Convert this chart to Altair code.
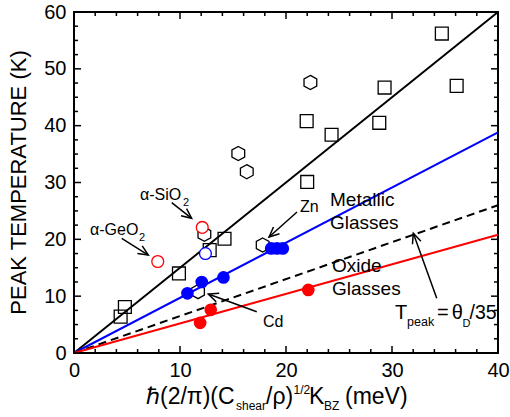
import math
import altair as alt
import pandas as pd

# ---------------- data ----------------
# open squares
sq_x = [34.7, 36.1, 29.3, 28.8, 21.95, 24.3, 22.0, 14.2, 12.8, 9.9, 4.8, 4.4]
sq_y = [56.2, 47.0, 46.7, 40.5, 40.8, 38.4, 30.1, 20.1, 18.1, 14.0, 8.1, 6.4]
# open hexagons
hex_x = [15.5, 16.3, 22.3, 12.3, 17.8, 11.7]
hex_y = [35.1, 31.9, 47.6, 20.9, 19.0, 10.8]
# open red circles (alpha-GeO2, alpha-SiO2)
oxo_x = [7.9, 12.1]
oxo_y = [16.1, 22.1]
# open blue circle
mgo_x = [12.4]
mgo_y = [17.5]
# filled blue circles (metallic glasses)
mg_x = [10.7, 12.05, 14.1, 18.6, 19.15, 19.7]
mg_y = [10.5, 12.5, 13.3, 18.4, 18.4, 18.4]
# filled red circles (oxide glasses)
ox_x = [11.9, 12.9, 22.1]
ox_y = [5.3, 7.6, 11.1]
# fitted lines through origin: value at x = 40
fit_x = [0, 40]
fit_end = {"black": 60.0, "blue": 38.8, "dash": 26.0, "red": 20.8}

# axis ticks
x_major = [0, 10, 20, 30, 40]
x_minor = [v for v in range(2, 40, 2) if v % 10 != 0]
y_major = [0, 10, 20, 30, 40, 50, 60]
y_minor = [v / 2 for v in range(5, 120, 5) if v % 20 != 0]

# annotations (data coordinates)
ann_label = ["\u03b1-SiO", "2", "\u03b1-GeO", "2", "Cd", "Zn",
             "Metallic", "Glasses", "Oxide", "Glasses",
             "T", "peak", "=", "\u03b8", "D", "/35"]
ann_x = [6.23, 10.28, 1.51, 6.13, 17.83, 21.32,
         24.15, 24.15, 24.34, 24.34,
         30.28, 31.42, 34.25, 35.63, 36.65, 37.31]
ann_y = [26.92, 25.95, 20.76, 19.71, 4.58, 24.81,
         25.87, 21.82, 14.17, 10.21,
         5.98, 4.75, 5.98, 5.98, 4.65, 5.98]
ann_fs = [16, 11, 16, 11, 16, 16,
          19, 19, 19, 19,
          20, 12.5, 20, 20, 11, 19.5]

# arrows (tail -> head), data coordinates
arr_x1 = [9.22, 4.50, 17.24, 21.04, 34.22]
arr_y1 = [26.45, 20.18, 7.27, 24.81, 9.63]
arr_x2 = [11.10, 7.01, 12.67, 18.40, 32.01]
arr_y2 = [23.70, 17.24, 10.38, 20.41, 21.06]

# x-axis title pieces: text, font size, left x (px in plot), baseline y (px in plot)
xt_text = ["\u210f(2/\u03c0)(C", "shear", "/\u03c1)", "1/2", "K", "BZ", "(meV)"]
xt_fs = [23, 12, 23, 12, 23, 12, 23]
xt_px = [72, 162, 192, 219.5, 235, 250, 271]
xt_py = [392, 398, 392, 382, 392, 398, 392]

# ---------------- chart ----------------
W, H = 424, 341
FONT = "Liberation Sans"
xs = alt.Scale(domain=[0, 40], nice=False, zero=False)
ys = alt.Scale(domain=[0, 60], nice=False, zero=False)
xaxis = alt.Axis(values=x_major, ticks=False, tickSize=0, domain=False, grid=False,
                 labelFontSize=20, labelFont=FONT, labelColor="black", labelPadding=7,
                 labelFlush=False, labelOverlap=False, title=None)
yaxis = alt.Axis(values=y_major, ticks=False, tickSize=0, domain=False, grid=False,
                 labelFontSize=20, labelFont=FONT, labelColor="black", labelPadding=8,
                 labelFlush=False, labelOverlap=False, title=None)


def X(f):
    return alt.X(f + ":Q", scale=xs, axis=xaxis)


def Y(f):
    return alt.Y(f + ":Q", scale=ys, axis=yaxis)


layers = []

# fitted lines
line_style = {
    "black": dict(color="black"),
    "blue": dict(color="#0000ff"),
    "dash": dict(color="black", strokeDash=[8, 5]),
    "red": dict(color="#ff0000"),
}
for key, yend in fit_end.items():
    df = pd.DataFrame({"x": fit_x, "y": [0, yend]})
    layers.append(alt.Chart(df).mark_line(strokeWidth=2, **line_style[key]).encode(x=X("x"), y=Y("y")))

# markers
hexpath = "M0,-1L0.9,-0.5L0.9,0.5L0,1L-0.9,0.5L-0.9,-0.5Z"
layers.append(alt.Chart(pd.DataFrame({"x": sq_x, "y": sq_y})).mark_point(
    shape="square", size=165, filled=False, color="black", strokeWidth=1.3, opacity=1
).encode(x=X("x"), y=Y("y")))
layers.append(alt.Chart(pd.DataFrame({"x": hex_x, "y": hex_y})).mark_point(
    shape=hexpath, size=200, filled=False, color="black", strokeWidth=1.3, opacity=1
).encode(x=X("x"), y=Y("y")))
layers.append(alt.Chart(pd.DataFrame({"x": oxo_x, "y": oxo_y})).mark_point(
    shape="circle", size=140, fill="white", stroke="#ff0000", strokeWidth=1.3, opacity=1
).encode(x=X("x"), y=Y("y")))
layers.append(alt.Chart(pd.DataFrame({"x": mgo_x, "y": mgo_y})).mark_point(
    shape="circle", size=140, fill="white", stroke="#0000ff", strokeWidth=1.3, opacity=1
).encode(x=X("x"), y=Y("y")))
layers.append(alt.Chart(pd.DataFrame({"x": mg_x, "y": mg_y})).mark_point(
    shape="circle", size=160, filled=True, color="#0000ff", opacity=1
).encode(x=X("x"), y=Y("y")))
layers.append(alt.Chart(pd.DataFrame({"x": ox_x, "y": ox_y})).mark_point(
    shape="circle", size=160, filled=True, color="#ff0000", opacity=1
).encode(x=X("x"), y=Y("y")))

# arrows
sx, sy = W / 40.0, H / 60.0
angles = []
for a, b, c, d in zip(arr_x1, arr_y1, arr_x2, arr_y2):
    dx = (c - a) * sx
    dy = -(d - b) * sy
    angles.append((math.degrees(math.atan2(dx, -dy)) + 360) % 360)
arr_df = pd.DataFrame({"x1": arr_x1, "y1": arr_y1, "x2": arr_x2, "y2": arr_y2, "ang": angles})
layers.append(alt.Chart(arr_df).mark_rule(color="black", strokeWidth=1.5).encode(
    x=X("x1"), y=Y("y1"), x2="x2:Q", y2="y2:Q"))
layers.append(alt.Chart(arr_df).mark_point(
    shape="M-0.45,1L0,0L0.45,1", size=400, filled=False, color="black", strokeWidth=1.5, opacity=1
).encode(x=X("x2"), y=Y("y2"), angle=alt.Angle("ang:Q", scale=None)))

# annotations
ann_df = pd.DataFrame({"tx": ann_x, "ty": ann_y, "label": ann_label, "fs": ann_fs})
layers.append(alt.Chart(ann_df).mark_text(align="left", baseline="alphabetic", font=FONT, color="black").encode(
    x=X("tx"), y=Y("ty"), text="label:N", size=alt.Size("fs:Q", scale=None)))


# inward ticks on all four sides
def tick_layers(vals, length, axis):
    df = pd.DataFrame({"t": vals})
    base = alt.Chart(df).mark_rule(color="black", strokeWidth=1.5)
    if axis == "x":
        return [
            base.encode(x=X("t"), y=alt.value(H), y2=alt.value(H - length)),
            base.encode(x=X("t"), y=alt.value(0), y2=alt.value(length)),
        ]
    return [
        base.encode(y=Y("t"), x=alt.value(0), x2=alt.value(length)),
        base.encode(y=Y("t"), x=alt.value(W - length), x2=alt.value(W)),
    ]


layers += tick_layers(x_major, 7, "x")
layers += tick_layers(x_minor, 4, "x")
layers += tick_layers(y_major, 7, "y")
layers += tick_layers(y_minor, 4, "y")

# y-axis title
layers.append(alt.Chart(pd.DataFrame({"t": ["PEAK TEMPERATURE (K)"]})).mark_text(
    angle=270, fontSize=22, font=FONT, color="black", align="center", baseline="middle"
).encode(text="t:N", x=alt.value(-55), y=alt.value(170.5)))

# x-axis title pieces
for t, fs, px, py in zip(xt_text, xt_fs, xt_px, xt_py):
    layers.append(alt.Chart(pd.DataFrame({"t": [t]})).mark_text(
        fontSize=fs, font=FONT, color="black", align="left", baseline="alphabetic"
    ).encode(text="t:N", x=alt.value(px), y=alt.value(py)))

chart = alt.layer(*layers).properties(
    width=W, height=H,
    autosize=alt.AutoSizeParams(type="none"),
    padding={"left": 74, "top": 12, "right": 12, "bottom": 64},
    background="white",
).configure_view(stroke="black", strokeWidth=2)

chart.save("out.html", embed_options={"renderer": "svg", "actions": False})
